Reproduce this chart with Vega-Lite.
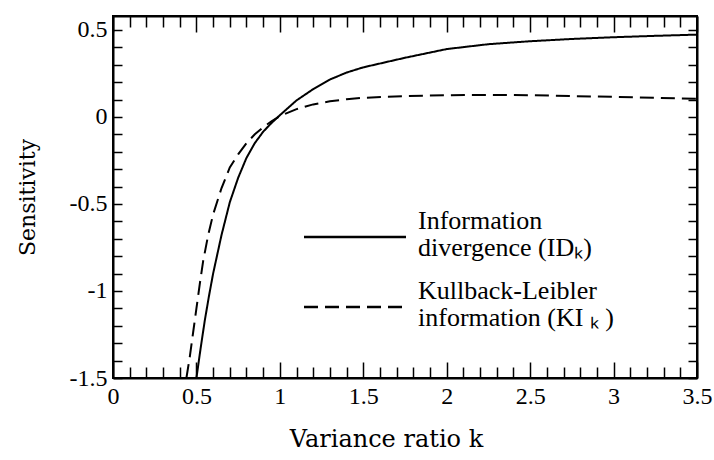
{
  "$schema": "https://vega.github.io/schema/vega-lite/v6.json",
  "autosize": {"type": "none"},
  "padding": {"left": 113, "top": 16, "right": 17, "bottom": 82},
  "width": 584,
  "height": 362,
  "background": "white",
  "config": {
    "view": {"stroke": "black", "strokeWidth": 2},
    "font": "Liberation Serif",
    "axis": {
      "domainColor": "black", "domainWidth": 2, "tickColor": "black", "tickWidth": 1.5,
      "labelColor": "black", "titleColor": "black", "labelFont": "Liberation Serif", "titleFont": "DejaVu Serif",
      "labelFontSize": 24, "titleFontSize": 24, "titleFontWeight": "normal", "grid": false
    }
  },
  "data": {"values": [
    {"k": 0.5, "v": -1.5, "s": "ID"},
    {"k": 0.525, "v": -1.33, "s": "ID"},
    {"k": 0.55, "v": -1.17, "s": "ID"},
    {"k": 0.575, "v": -1.03, "s": "ID"},
    {"k": 0.6, "v": -0.9, "s": "ID"},
    {"k": 0.65, "v": -0.68, "s": "ID"},
    {"k": 0.7, "v": -0.49, "s": "ID"},
    {"k": 0.75, "v": -0.35, "s": "ID"},
    {"k": 0.8, "v": -0.235, "s": "ID"},
    {"k": 0.85, "v": -0.15, "s": "ID"},
    {"k": 0.9, "v": -0.085, "s": "ID"},
    {"k": 0.95, "v": -0.035, "s": "ID"},
    {"k": 1.0, "v": 0.01, "s": "ID"},
    {"k": 1.1, "v": 0.095, "s": "ID"},
    {"k": 1.2, "v": 0.16, "s": "ID"},
    {"k": 1.3, "v": 0.215, "s": "ID"},
    {"k": 1.4, "v": 0.255, "s": "ID"},
    {"k": 1.5, "v": 0.285, "s": "ID"},
    {"k": 1.75, "v": 0.34, "s": "ID"},
    {"k": 2.0, "v": 0.39, "s": "ID"},
    {"k": 2.25, "v": 0.418, "s": "ID"},
    {"k": 2.5, "v": 0.435, "s": "ID"},
    {"k": 2.75, "v": 0.448, "s": "ID"},
    {"k": 3.0, "v": 0.458, "s": "ID"},
    {"k": 3.25, "v": 0.466, "s": "ID"},
    {"k": 3.5, "v": 0.473, "s": "ID"},
    {"k": 0.44, "v": -1.5, "s": "KL"},
    {"k": 0.46, "v": -1.38, "s": "KL"},
    {"k": 0.48, "v": -1.24, "s": "KL"},
    {"k": 0.5, "v": -1.1, "s": "KL"},
    {"k": 0.52, "v": -0.96, "s": "KL"},
    {"k": 0.54, "v": -0.83, "s": "KL"},
    {"k": 0.57, "v": -0.68, "s": "KL"},
    {"k": 0.6, "v": -0.56, "s": "KL"},
    {"k": 0.65, "v": -0.41, "s": "KL"},
    {"k": 0.7, "v": -0.29, "s": "KL"},
    {"k": 0.75, "v": -0.215, "s": "KL"},
    {"k": 0.8, "v": -0.15, "s": "KL"},
    {"k": 0.85, "v": -0.1, "s": "KL"},
    {"k": 0.9, "v": -0.06, "s": "KL"},
    {"k": 0.95, "v": -0.025, "s": "KL"},
    {"k": 1.0, "v": 0.005, "s": "KL"},
    {"k": 1.1, "v": 0.045, "s": "KL"},
    {"k": 1.2, "v": 0.072, "s": "KL"},
    {"k": 1.3, "v": 0.09, "s": "KL"},
    {"k": 1.4, "v": 0.102, "s": "KL"},
    {"k": 1.5, "v": 0.11, "s": "KL"},
    {"k": 1.75, "v": 0.12, "s": "KL"},
    {"k": 2.0, "v": 0.125, "s": "KL"},
    {"k": 2.25, "v": 0.126, "s": "KL"},
    {"k": 2.5, "v": 0.125, "s": "KL"},
    {"k": 2.75, "v": 0.12, "s": "KL"},
    {"k": 3.0, "v": 0.116, "s": "KL"},
    {"k": 3.25, "v": 0.11, "s": "KL"},
    {"k": 3.5, "v": 0.104, "s": "KL"}
  ]},
  "resolve": {"axis": {"x": "independent", "y": "independent"}},
  "layer": [
    {
      "mark": {"type": "line", "color": "black", "strokeWidth": 2, "clip": true},
      "encoding": {
        "x": {"field": "k", "type": "quantitative", "scale": {"domain": [0, 3.5], "nice": false, "zero": false},
          "axis": {
            "orient": "bottom",
            "title": "Variance ratio k",
            "titleX": 273,
            "titleAlign": "center",
            "values": [0,0.1,0.2,0.3,0.4,0.5,0.6,0.7,0.8,0.9,1,1.1,1.2,1.3,1.4,1.5,1.6,1.7,1.8,1.9,2,2.1,2.2,2.3,2.4,2.5,2.6,2.7,2.8,2.9,3,3.1,3.2,3.3,3.4,3.5],
            "tickSize": {"condition": {"test": "round(datum.value*10) % 5 === 0", "value": -16}, "value": -11},
            "labelExpr": "round(datum.value*10) % 5 === 0 ? '' + (round(datum.value*10)/10) : ''",
            "labelPadding": 22,
            "labelFlush": false,
            "labelOverlap": false,
            "titlePadding": 14
          }},
        "y": {"field": "v", "type": "quantitative", "scale": {"domain": [-1.5, 0.58], "nice": false, "zero": false},
          "axis": {
            "orient": "left",
            "title": "Sensitivity",
            "titleFontSize": 22,
            "values": [-1.5,-1.4,-1.3,-1.2,-1.1,-1,-0.9,-0.8,-0.7,-0.6,-0.5,-0.4,-0.3,-0.2,-0.1,0,0.1,0.2,0.3,0.4,0.5],
            "tickSize": -9,
            "labelExpr": "round(datum.value*10) % 5 === 0 ? '' + (round(datum.value*10)/10) : ''",
            "labelPadding": 15,
            "labelFlush": false,
            "labelOverlap": false,
            "titlePadding": 30
          }},
        "strokeDash": {"field": "s", "type": "nominal",
          "scale": {"domain": ["ID", "KL"], "range": [[1, 0], [14, 7]]},
          "legend": {
            "orient": "none", "legendX": 215, "legendY": 194, "title": null,
            "symbolType": "M-2,0H2", "symbolSize": 2601, "symbolStrokeWidth": 2.5, "symbolStrokeColor": "black",
            "symbolFillColor": "transparent",
            "labelFont": "Liberation Serif", "labelFontSize": 26, "labelColor": "black", "labelLimit": 400,
            "labelOffset": 36, "rowPadding": 17,
            "labelExpr": "datum.label === 'ID' ? ['Information', 'divergence (IDₖ)'] : ['Kullback-Leibler', 'information (KI ₖ )']",
            "encode": {"labels": {"update": {"lineHeight": {"value": 27}, "dy": {"value": -16}}}}
          }}
      }
    },
    {
      "mark": {"type": "line", "opacity": 0, "clip": true},
      "encoding": {
        "x": {"field": "k", "type": "quantitative",
          "axis": {
            "orient": "top", "title": null, "labels": false,
            "values": [0,0.1,0.2,0.3,0.4,0.5,0.6,0.7,0.8,0.9,1,1.1,1.2,1.3,1.4,1.5,1.6,1.7,1.8,1.9,2,2.1,2.2,2.3,2.4,2.5,2.6,2.7,2.8,2.9,3,3.1,3.2,3.3,3.4,3.5],
            "tickSize": {"condition": {"test": "round(datum.value*10) % 5 === 0", "value": -16}, "value": -11}
          }},
        "y": {"field": "v", "type": "quantitative",
          "axis": {
            "orient": "right", "title": null, "labels": false,
            "values": [-1.5,-1.4,-1.3,-1.2,-1.1,-1,-0.9,-0.8,-0.7,-0.6,-0.5,-0.4,-0.3,-0.2,-0.1,0,0.1,0.2,0.3,0.4,0.5],
            "tickSize": -9
          }},
        "detail": {"field": "s"}
      }
    }
  ]
}
